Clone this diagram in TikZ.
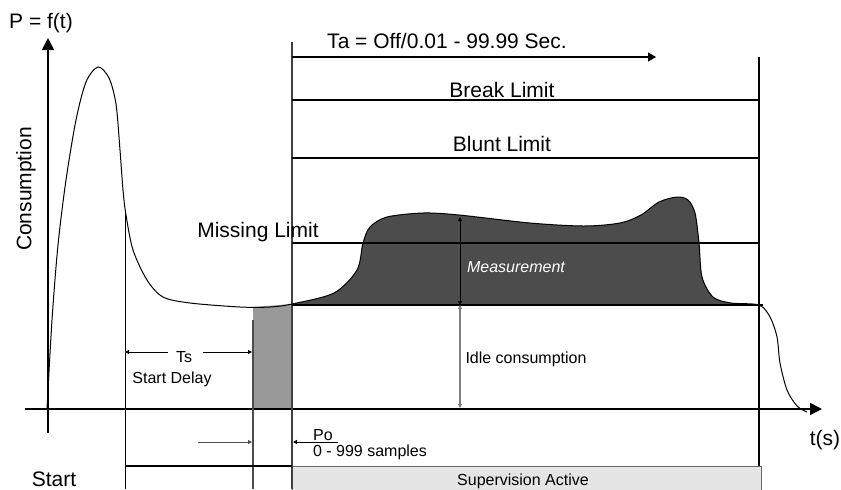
\documentclass[tikz,border=0pt]{standalone}
\usepackage{fontspec}
\setmainfont{Liberation Sans}
\usetikzlibrary{arrows.meta}

\begin{document}
\begin{tikzpicture}[x=0.5pt,y=-0.5pt,
		big/.style={font=\fontsize{10.5}{12}\selectfont},
		small/.style={font=\fontsize{8}{9.6}\selectfont},
		dim/.style={{Triangle[length=2pt,width=2pt]}-{Triangle[length=2pt,width=2pt]}},
		dimto/.style={-{Triangle[length=2pt,width=2pt]}},
		axis/.style={line width=0.8pt,-{Triangle[length=6pt,width=6pt]}}]
		\useasboundingbox (0,0) rectangle (841,489);

		% Axes end points
		\coordinate (ybot) at (48,433);
		\coordinate (ytop) at (48,38);
		\coordinate (xleft) at (25,409);
		\coordinate (xright) at (822,409);

		% Fills
		\fill[black!40] (253,307) -- (292,304) -- (292,409) -- (253,409) -- cycle;
		\fill[black!70] plot[smooth, tension=0.5] coordinates {(292,304) (334,293) (357,270) (363,243)
			(370,227) (387,217) (423,213) (459,215) (530,223) (584,226) (620,223) (641,215)
			(659,202) (677,197) (688,200) (695,213) (699,243) (702,277) (713,297) (731,303) (759,305)} -- cycle;
		\filldraw[fill=black!10, draw=black!60] (292,466) rectangle (761,492);

		% Draw the axes
		\draw[axis] (ybot) -- (ytop);
		\draw[axis] (xleft) -- (xright);

		% Vertical lines
		\draw[line width=0.6pt] (125.5,212) -- (125.5,489);
		\draw[black!70, line width=0.7pt] (253,320) -- (253,489);
		\draw[black!75, line width=0.8pt] (292,42) -- (292,489);
		\draw[line width=0.6pt] (759,57) -- (759,466);

		% Limits
		\coordinate (ta1) at (292,57);
		\coordinate (ta2) at (656,57);
		\draw[line width=0.6pt, -{Triangle[length=4pt,width=4.5pt]}] (ta1) -- (ta2);
		\draw[line width=0.6pt] (292,100) -- (759,100); % break
		\draw[line width=0.6pt] (292,158) -- (759,158); % blunt
		\draw[line width=0.9pt] (292,243) -- (759,243); % missing
		\draw[line width=0.8pt] (292,305) -- (763,305); % idle
		\draw[line width=0.6pt] (125,466) -- (292,466); % start row

		% Curve
		\draw[line width=0.5pt] plot[smooth, tension=0.5] coordinates {(47,409) (52,320) (58,245) (66,180)
			(76,120) (86,82) (98,67) (109,78) (116,104) (120,150) (123,190) (126,215) (133,250) (147,280)
			(163,297) (190,303) (240,307) (270,307) (292,304) (334,293) (357,270) (363,243)
			(370,227) (387,217) (423,213) (459,215) (530,223) (584,226) (620,223) (641,215)
			(659,202) (677,197) (688,200) (695,213) (699,243) (702,277) (713,297) (731,303)
			(759,305) (770,317) (777,337) (780,363) (787,390) (797,406) (807,412)};

		% Dimensions
		\coordinate (mtop) at (460,217);
		\coordinate (mbot) at (460,305);
		\coordinate (ibot) at (460,408);
		\draw[dim, line width=0.5pt] (mtop) -- (mbot);
		\draw[dim, black!50, line width=0.6pt] (mbot) -- (ibot);

		\coordinate (tsa) at (125,352);
		\coordinate (tsb) at (168,352);
		\coordinate (tsc) at (203,352);
		\coordinate (tsd) at (252,352);
		\draw[dimto, line width=0.5pt] (tsb) -- (tsa);
		\draw[dimto, line width=0.5pt] (tsc) -- (tsd);

		\coordinate (poa) at (198,442);
		\coordinate (pob) at (252,442);
		\coordinate (poc) at (338,442);
		\coordinate (pod) at (293,442);
		\draw[dimto, black!70, line width=0.5pt] (poa) -- (pob);
		\draw[dimto, line width=0.5pt] (poc) -- (pod);

		% Labels
		\node[big, anchor=base] (pf) at (41,28) {P = f(t)};
		\node[big, rotate=90] (cons) at (26,189) {Consumption};
		\node[big] (tsec) at (825,440) {t(s)};
		\node[big, anchor=base] (start) at (54,486) {Start};
		\node[big, anchor=base] (ta) at (447,48) {Ta = Off/0.01 - 99.99 Sec.};
		\node[big, anchor=base] (brk) at (502,97) {Break Limit};
		\node[big, anchor=base] (blt) at (502,151) {Blunt Limit};
		\node[big, anchor=base] (mis) at (258,237) {Missing Limit};
		\node[anchor=base, text=white, font=\fontsize{8}{9.6}\selectfont\itshape] (meas) at (516,272) {Measurement};
		\node[small, anchor=base] (idle) at (526,363) {Idle consumption};
		\node[small, anchor=base] (tsl) at (184,362) {Ts};
		\node[small, anchor=base] (sd) at (172,383) {Start Delay};
		\node[small, anchor=base] (po) at (323,440) {Po};
		\node[small, anchor=base] (smp) at (370,456) {0 - 999 samples};
		\node[small, anchor=base] (sup) at (523,485) {Supervision Active};
\end{tikzpicture}
\end{document}
